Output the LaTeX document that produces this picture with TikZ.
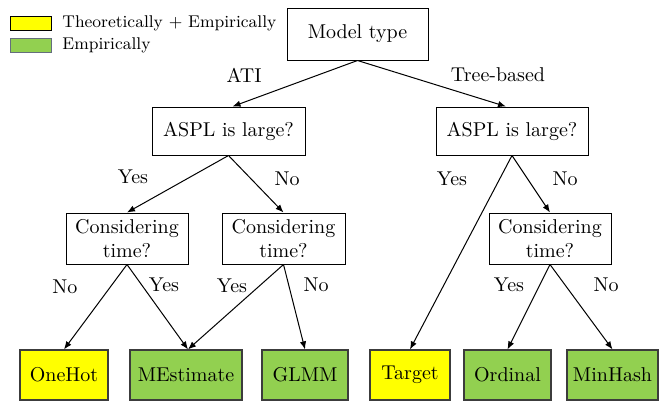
\documentclass[tikz,border=0pt]{standalone}
\usetikzlibrary{arrows.meta}
\definecolor{leafyellow}{RGB}{255,255,0}
\definecolor{leafgreen}{RGB}{146,208,80}
\definecolor{leafborder}{RGB}{60,60,60}
\begin{document}
\begin{tikzpicture}[x=0.5pt,y=-0.5pt,
  decision/.style={draw,line width=0.5pt,align=center,inner sep=2pt},
  leaf/.style={draw=leafborder,line width=0.6pt,minimum height=25pt,inner sep=2pt},
  yleaf/.style={leaf,fill=leafyellow},
  gleaf/.style={leaf,fill=leafgreen},
  edgelbl/.style={inner sep=1pt},
  legtext/.style={anchor=west,inner sep=0pt,font=\fontsize{8.5}{10}\selectfont},
  arr/.style={-{Latex[length=4pt,width=3.2pt]},line width=0.5pt}
]
\useasboundingbox (0,0) rectangle (659,403);
% legend
\node[draw=black,fill=leafyellow,minimum width=20.5pt,minimum height=7pt,inner sep=0pt] (ly) at (30.5,23) {};
\node[draw={rgb,255:red,100;green,110;blue,125},fill=leafgreen,minimum width=20.5pt,minimum height=7pt,inner sep=0pt] (lg) at (30.5,45) {};
\node[legtext] (lyt) at (62,23) {Theoretically + Empirically};
\node[legtext] (lgt) at (62,45) {Empirically};
% decision nodes
\node[decision,minimum width=70.5pt,minimum height=26pt] (mt) at (357.5,34) {Model type};
\node[decision,minimum width=76.5pt,minimum height=24pt] (a1) at (228.5,131) {ASPL is large?};
\node[decision,minimum width=76pt,minimum height=24pt] (a2) at (512,131) {ASPL is large?};
\node[decision,minimum width=61pt,minimum height=25.5pt] (c1) at (127,238.5) {Considering\\time?};
\node[decision,minimum width=61.5pt,minimum height=25.5pt] (c2) at (283.5,238.5) {Considering\\time?};
\node[decision,minimum width=61pt,minimum height=25.5pt] (c3) at (550,238.5) {Considering\\time?};
% leaves
\node[yleaf,minimum width=44pt] (l1) at (64,375) {OneHot};
\node[gleaf,minimum width=56pt] (l2) at (186,375) {MEstimate};
\node[gleaf,minimum width=43pt] (l3) at (305,375) {GLMM};
\node[yleaf,minimum width=40pt] (l4) at (410,375) {Target};
\node[gleaf,minimum width=43.5pt] (l5) at (507.5,375) {Ordinal};
\node[gleaf,minimum width=45.5pt] (l6) at (612.5,375) {MinHash};
% edges
\draw[arr] (mt.south) -- ([xshift=2pt]a1.north);
\draw[arr] (mt.south) -- ([xshift=-3pt]a2.north);
\draw[arr] (a1.south) -- (c1.north);
\draw[arr] (a1.south) -- (c2.north);
\draw[arr] (a2.south) -- (l4.north);
\draw[arr] (a2.south) -- (c3.north);
\draw[arr] (c1.south) -- (l1.north);
\draw[arr] (c1.south) -- ([xshift=1pt]l2.north);
\draw[arr] (c2.south) -- ([xshift=1pt]l2.north);
\draw[arr] (c2.south) -- (l3.north);
\draw[arr] (c3.south) -- (l5.north);
\draw[arr] (c3.south) -- (l6.north);
% edge labels
\node[edgelbl] (tA) at (244,75) {ATI};
\node[edgelbl] (tB) at (498,75) {Tree-based};
\node[edgelbl] (t1) at (133,177) {Yes};
\node[edgelbl] (t2) at (287,179) {No};
\node[edgelbl] (t3) at (452,179) {Yes};
\node[edgelbl] (t4) at (565,179) {No};
\node[edgelbl] (t5) at (65,287) {No};
\node[edgelbl] (t6) at (164,285) {Yes};
\node[edgelbl] (t7) at (232,286) {Yes};
\node[edgelbl] (t8) at (316,285) {No};
\node[edgelbl] (t9) at (509,285) {Yes};
\node[edgelbl] (t10) at (606,285) {No};
\end{tikzpicture}
\end{document}
